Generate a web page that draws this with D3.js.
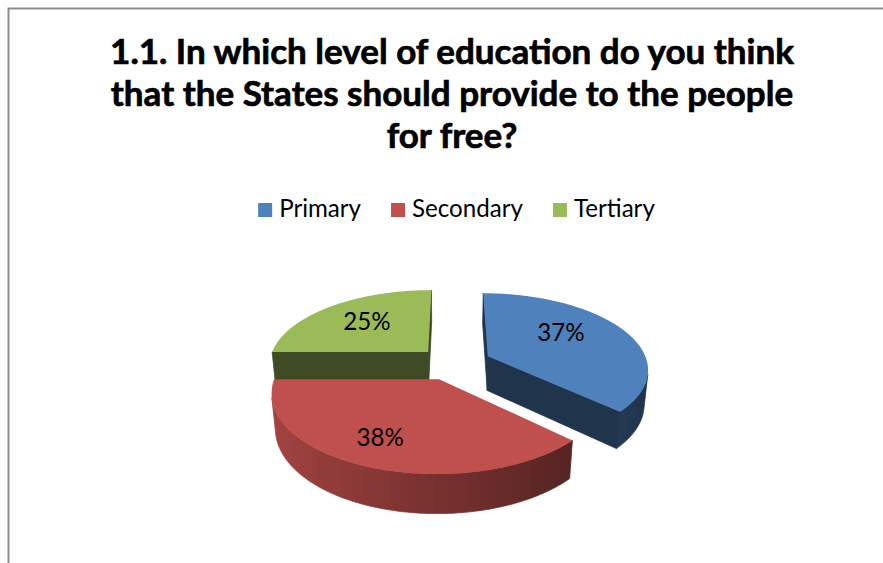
<!DOCTYPE html>
<html>
<head>
<meta charset="utf-8">
<script src="https://cdn.jsdelivr.net/npm/d3@7"></script>
<style>
  html, body { margin: 0; padding: 0; background: #ffffff; }
  svg { display: block; }
</style>
</head>
<body>
<svg id="chart" width="883" height="563"></svg>
<script>
// ---- data ----
const categories = ["Primary", "Secondary", "Tertiary"];
const shares = [37, 38, 25];
const colors = ["#4F81BD", "#C0504D", "#9BBB59"];
const titleLines = [
  "1.1. In which level of education do you think",
  "that the States should provide to the people",
  "for free?"
];

// ---- layout ----
const W = 883, H = 563;
const fontFamily = "Lato, 'Open Sans', 'DejaVu Sans', sans-serif";
const explode = [0.246, 0.22, 0.22];          // slice pull-out, in radius units
const labelNudge = [[4, -11], [-25, 17], [-10, -8]];

// 3D view: pie of radius 1 lying flat, seen from above at an angle
const view = {
  tilt: 27.9 * Math.PI / 180,
  dist: 5.72,
  focal: 913.6,
  cx: 452.4,
  cy: 363.4,
  depth: 0.25
};
const sT = Math.sin(view.tilt), cT = Math.cos(view.tilt);
const camera = [0, view.dist * sT, view.dist * cT];

function project(X, Y, Z) {
  const yc = Y * cT - Z * sT;
  const d = view.dist - Y * sT - Z * cT;
  return [view.cx + view.focal * X / d, view.cy - view.focal * yc / d];
}
const dirOf = a => [Math.sin(a), -Math.cos(a)];   // 0 = 12 o'clock, clockwise

const svg = d3.select("#chart");
const defs = svg.append("defs");
svg.append("rect").attr("width", W).attr("height", H).attr("fill", "#ffffff");

// chart frame (runs past the right and bottom edges)
svg.append("rect")
  .attr("x", 8.5).attr("y", 8.5)
  .attr("width", W + 20).attr("height", H + 20)
  .attr("fill", "none")
  .attr("stroke", "#8e8e8e")
  .attr("stroke-width", 2);

// ---- title ----
const title = svg.append("g").attr("font-family", fontFamily)
  .attr("font-weight", "bold").attr("fill", "#000")
  .attr("stroke", "#000").attr("stroke-width", 0.7);
const titleBase = [64, 106, 148];
const probe = title.append("text").attr("font-size", 30).text(titleLines[0]);
const titleSize = 30 * 684 / probe.node().getComputedTextLength();
probe.remove();
titleLines.forEach((t, i) => {
  title.append("text")
    .attr("x", 452).attr("y", titleBase[i])
    .attr("text-anchor", "middle")
    .attr("font-size", titleSize)
    .text(t);
});

// ---- legend ----
const legend = svg.append("g").attr("font-family", fontFamily).attr("fill", "#000");
const lp = legend.append("text").attr("font-size", 24).text("Secondary");
const legendSize = 24 * 111 / lp.node().getComputedTextLength();
lp.remove();
const sq = 14, gapText = 7, gapItem = 30;
const items = categories.map((c, i) => {
  const t = legend.append("text").attr("font-size", legendSize).text(c);
  return { t, w: t.node().getComputedTextLength(), i };
});
const totalW = d3.sum(items, d => sq + gapText + d.w) + gapItem * (items.length - 1);
let lx = 456.5 - totalW / 2;
items.forEach(d => {
  legend.append("rect")
    .attr("x", lx).attr("y", 203).attr("width", sq).attr("height", sq)
    .attr("fill", colors[d.i]);
  d.t.attr("x", lx + sq + gapText).attr("y", 217);
  lx += sq + gapText + d.w + gapItem;
});

// ---- 3D pie ----
const pie = d3.pie().sort(null).value(d => d).startAngle(0).endAngle(2 * Math.PI);
const arcs = pie(shares);
const line = d3.line().curve(d3.curveLinearClosed);

const shade = (c, f) => {
  const k = d3.rgb(c);
  return d3.rgb(k.r * f, k.g * f, k.b * f).formatHex();
};
const rimLight = nx => Math.max(0.3, 0.62 - 0.24 * nx);
const facesCamera = (n, p) =>
  n[0] * (camera[0] - p[0]) + n[1] * (camera[1] - p[1]) + n[2] * (camera[2] - p[2]) > 0;

const slices = arcs.map((a, i) => {
  const mid = (a.startAngle + a.endAngle) / 2;
  const [dx, dz] = dirOf(mid);
  return { a, i, mid, ox: dx * explode[i], oz: dz * explode[i] };
});
// far slices first
slices.sort((p, q) => p.oz - q.oz);

const pieG = svg.append("g");
const h = view.depth;

slices.forEach(s => {
  const g = pieG.append("g");
  const col = colors[s.i];
  const pt = (ang, r, Y) => {
    const [dx, dz] = dirOf(ang);
    return [s.ox + r * dx, Y, s.oz + r * dz];
  };
  const P = p => project(p[0], p[1], p[2]);
  const a0 = s.a.startAngle, a1 = s.a.endAngle;
  const steps = Math.max(8, Math.ceil((a1 - a0) / (Math.PI / 360)));
  const angs = d3.range(steps + 1).map(k => a0 + (a1 - a0) * k / steps);

  // outer rim: the run of angles facing the camera, filled with a left-to-right shading
  const vis = angs.filter(b => {
    const [nx, nz] = dirOf(b);
    return facesCamera([nx, 0, nz], pt(b, 1, -h / 2));
  });
  if (vis.length > 1) {
    const topPts = vis.map(b => P(pt(b, 1, 0)));
    const botPts = vis.map(b => P(pt(b, 1, -h))).reverse();
    const xs = topPts.map(p => p[0]);
    const xMin = d3.min(xs), xMax = d3.max(xs);
    const gid = "rim" + s.i;
    const grad = defs.append("linearGradient").attr("id", gid)
      .attr("gradientUnits", "userSpaceOnUse")
      .attr("x1", xMin).attr("x2", xMax).attr("y1", 0).attr("y2", 0);
    const stops = vis.map((b, k) => ({
      o: (xs[k] - xMin) / Math.max(1e-6, xMax - xMin),
      c: shade(col, rimLight(dirOf(b)[0]))
    })).sort((p, q) => p.o - q.o);
    stops.filter((d, k) => k % 6 === 0 || k === stops.length - 1).forEach(d =>
      grad.append("stop").attr("offset", d.o).attr("stop-color", d.c));
    g.append("path").attr("d", line(topPts.concat(botPts)))
      .attr("fill", `url(#${gid})`)
      .attr("stroke", `url(#${gid})`).attr("stroke-width", 0.8);
  }

  // radial cut faces
  [[a0, a0 - Math.PI / 2], [a1, a1 + Math.PI / 2]].forEach(([ang, nAng]) => {
    const [nx, nz] = dirOf(nAng);
    const mid = pt(ang, 0.5, -h / 2);
    if (!facesCamera([nx, 0, nz], mid)) return;
    const quad = [pt(ang, 0, 0), pt(ang, 1, 0), pt(ang, 1, -h), pt(ang, 0, -h)].map(P);
    const c = shade(col, 0.4);
    g.append("path").attr("d", line(quad))
      .attr("fill", c).attr("stroke", c).attr("stroke-width", 0.8);
  });

  // top face
  const top = [P(pt(0, 0, 0))].concat(angs.map(b => P(pt(b, 1, 0))));
  g.append("path").attr("d", line(top)).attr("fill", col);
});

// ---- data labels ----
const labels = svg.append("g").attr("font-family", fontFamily).attr("fill", "#000");
slices.forEach(s => {
  const [dx, dz] = dirOf(s.mid);
  const [x, y] = project(s.ox + 0.5 * dx, 0, s.oz + 0.5 * dz);
  labels.append("text")
    .attr("x", x + labelNudge[s.i][0])
    .attr("y", y + labelNudge[s.i][1])
    .attr("text-anchor", "middle")
    .attr("dominant-baseline", "central")
    .attr("font-size", legendSize)
    .text(d3.format(".0%")(s.a.value / d3.sum(shares)));
});
</script>
</body>
</html>
